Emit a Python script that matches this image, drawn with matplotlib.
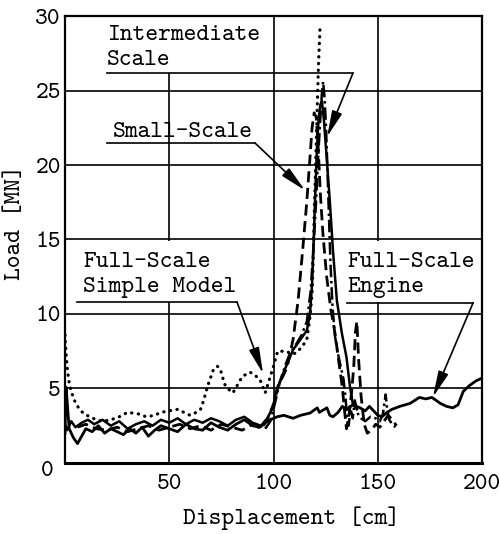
import numpy as np
import matplotlib
matplotlib.use('Agg')
import matplotlib.pyplot as plt
from matplotlib.patches import Rectangle

plt.rcParams['font.family'] = ['cmtt10', 'DejaVu Sans Mono']
plt.rcParams['font.size'] = 17.5
plt.rcParams['axes.unicode_minus'] = False

# Full-Scale Engine (solid, runs to 200 cm)
engine_x = [0, 0.5, 1, 2, 4, 6, 8, 10, 13, 16, 19, 22, 25, 28, 31, 34, 37, 40, 43, 46,
            50, 54, 58, 62, 66, 70, 74, 78, 82, 86, 90, 93.5, 97, 101.7, 105, 109.4, 113,
            117.5, 121, 122, 125.6, 127, 128.5, 131, 133, 135, 138, 141.5, 144, 146, 148,
            150, 152, 154.5, 156.8, 160.6, 165.5, 170, 173, 176, 180, 183, 186, 188.5, 191,
            194, 197, 200]
engine_y = [2.0, 5.1, 4.2, 2.3, 1.7, 1.3, 1.8, 2.3, 2.1, 2.5, 2.0, 2.3, 2.1, 1.9, 2.3, 2.0,
            2.4, 1.8, 2.2, 2.5, 2.3, 2.1, 2.6, 2.3, 2.2, 2.7, 2.4, 2.2, 2.6, 2.9, 2.5, 2.4,
            2.8, 3.1, 3.2, 3.0, 3.2, 3.35, 3.7, 3.4, 3.7, 3.2, 3.1, 3.4, 3.8, 3.6, 3.9, 3.7,
            3.5, 3.8, 3.5, 3.2, 3.1, 3.4, 3.6, 3.8, 4.0, 4.4, 4.3, 4.4, 4.0, 3.8, 3.7, 3.9,
            4.8, 5.2, 5.5, 5.7]

# Full-Scale Simple Model (solid, with peak)
simple_x = [0, 1, 3, 5, 8, 11, 14, 18, 22, 26, 30, 34, 38, 42, 46, 50, 54, 58, 62, 66, 70,
            74, 78, 82, 86, 90, 94, 97, 100, 101, 104.6, 109.4, 113, 116, 117.5, 118.5,
            119.3, 120, 120.8, 121.6, 122.4, 123.2, 124.2, 125.5, 127, 128.5, 130.4, 132.8,
            135, 136.7, 138, 140]
simple_y = [2.6, 2.2, 2.8, 2.4, 2.7, 2.9, 2.6, 2.9, 2.5, 2.8, 2.3, 2.6, 2.8, 2.5, 2.9, 2.7,
            3.0, 2.6, 2.9, 2.7, 3.0, 2.8, 2.5, 2.9, 3.1, 2.7, 2.5, 3.0, 3.8, 4.7, 6.0, 7.6,
            8.3, 8.9, 10.0, 12.0, 15.0, 18.0, 21.0, 23.0, 24.0, 24.3, 23.0, 20.5, 17.6, 14.3,
            10.9, 8.7, 7.1, 5.1, 4.0, 3.6]

# dotted curve
dot_x = [0, 0.3, 0.7, 1.2, 2, 3, 4.5, 6.5, 9, 12, 15, 18, 22, 26, 30, 35, 39, 43, 46, 50,
         54, 57, 60, 63, 65, 66.5, 68.5, 71, 73, 74.5, 76.5, 78, 80.5, 83, 85, 88.7, 91,
         93.5, 96, 98, 99.8, 102, 106, 109, 111, 113.7, 116, 117.5, 118.5, 119, 119.5,
         120.2, 121, 121.6, 122.3]
dot_y = [8.6, 7.8, 7.0, 6.2, 5.4, 4.8, 4.2, 3.7, 3.3, 3.1, 2.9, 2.8, 2.9, 3.1, 3.4, 3.3, 3.1,
         3.2, 3.4, 3.5, 3.6, 3.4, 3.2, 3.4, 3.6, 4.2, 5.2, 6.2, 6.5, 6.3, 5.3, 5.0, 4.7, 5.3,
         5.8, 6.1, 5.9, 5.6, 4.7, 5.6, 6.4, 7.5, 7.5, 7.3, 7.4, 7.8, 8.3, 9.8, 11.4, 13.5,
         16.5, 20.0, 24.0, 26.8, 29.2]

# Small-Scale (dashed)
small_x = [6, 10, 15, 20, 25, 30, 35, 40, 45, 50, 55, 60, 65, 70, 75, 80, 85, 90, 94, 97,
           100.7, 102, 106.5, 109.4, 111.8, 114, 116, 117.5, 118.5, 119.5, 120.5, 121.5,
           122.5, 123.7, 125.5, 127.5, 129.5, 131.5, 133, 134, 135, 136.2, 137.5, 138.5,
           139.3, 140, 140.8, 142, 143.5, 145, 147, 149, 151, 153, 155, 157, 159]
small_y = [2.4, 2.6, 2.3, 2.2, 2.4, 2.1, 2.3, 2.5, 2.2, 2.4, 2.6, 2.3, 2.5, 2.2, 2.6, 2.4,
           2.2, 2.6, 2.3, 2.9, 4.2, 5.1, 6.4, 8.3, 10.9, 14.3, 17.6, 20.5, 22.5, 23.5, 23.2,
           21.0, 18.0, 15.4, 12.5, 10.3, 8.7, 6.6, 5.1, 3.6, 2.3, 3.2, 4.8, 6.5, 8.8, 9.5,
           7.0, 4.5, 2.6, 2.0, 2.2, 2.6, 2.4, 2.8, 3.2, 2.9, 2.5]

# Intermediate Scale (dash-dot)
inter_x = [96, 98.5, 100.5, 103, 105.5, 108, 111, 113.5, 116, 117.8, 119.2, 120.4, 121.4,
           122.4, 123.2, 123.8, 124.5, 125.2, 125.8, 126.5, 127.3, 128.3, 129.5, 130.8,
           132.2, 133.6, 134.6, 135.3, 136, 137, 138, 139, 140.5, 142, 144, 146.5, 149, 151,
           152.5, 153.8, 154.5, 155.5, 157, 158.5]
inter_y = [2.3, 2.8, 3.9, 5.4, 6.5, 7.4, 8.0, 8.6, 9.5, 11.5, 14.5, 17.5, 20.5, 23.0, 24.8,
           25.6, 24.5, 22.5, 20.0, 17.0, 13.5, 10.5, 8.5, 7.4, 6.5, 5.6, 4.3, 3.0, 2.5, 3.6,
           3.0, 4.2, 3.3, 3.0, 2.8, 3.1, 3.0, 2.8, 3.3, 4.6, 3.6, 2.9, 2.6, 2.4]

x_ticks = [50, 100, 150, 200]
y_ticks = [5, 10, 15, 20, 25, 30]

fig = plt.figure(figsize=(5.0, 5.34), dpi=100)
ax = fig.add_axes([0.13, 0.133, 0.834, 0.837])

ax.set_xlim(0, 200)
ax.set_ylim(0, 30)
ax.set_xticks(x_ticks)
ax.set_yticks(y_ticks)
ax.tick_params(length=0, pad=3)
ax.tick_params(axis='x', pad=8)
ax.set_axisbelow(True)
ax.grid(True, color='black', lw=1.2)
for s in ax.spines.values():
    s.set_linewidth(1.6)
ax.spines['bottom'].set_linewidth(2.2)

ax.text(-0.043, -0.02, '0', transform=ax.transAxes, ha='center', va='center')

ax.set_xlabel('Displacement [cm]')
ax.xaxis.set_label_coords(0.543, -0.123)
ax.xaxis.label.set_va('center')
ax.set_ylabel('Load [MN]')
ax.yaxis.set_label_coords(-0.118, 0.537)
ax.yaxis.label.set_va('center')

ax.plot(engine_x, engine_y, color='black', lw=2.0)
ax.plot(simple_x, simple_y, color='black', lw=1.8)
ax.plot(dot_x, dot_y, color='black', lw=2.3, linestyle=(0, (0.1, 2.0)),
        dash_capstyle='round')
ax.plot(small_x, small_y, color='black', lw=2.0, linestyle=(0, (4, 2)))
ax.plot(inter_x, inter_y, color='black', lw=1.8, linestyle=(0, (5, 1.5, 1, 1.5)))

# white areas behind the labels
for (x0, y0, w, h) in [(18, 26.2, 75, 3.8), (3, 10.8, 86, 4.1), (133, 10.8, 66, 4.1)]:
    ax.add_patch(Rectangle((x0, y0), w, h, facecolor='white', edgecolor='none', zorder=1))

# labels
ax.text(20.1, 28.4, 'Intermediate', va='baseline', zorder=3)
ax.text(20.1, 26.7, 'Scale', va='baseline', zorder=3)
ax.text(23.0, 21.9, 'Small-Scale', va='baseline', zorder=3)
ax.text(8.6, 13.15, 'Full-Scale', va='baseline', zorder=3)
ax.text(8.6, 11.48, 'Simple Model', va='baseline', zorder=3)
ax.text(135.3, 13.15, 'Full-Scale', va='baseline', zorder=3)
ax.text(135.3, 11.48, 'Engine', va='baseline', zorder=3)

# leader lines and arrows
leaders = [((20.1, 138.1), 26.17, (125.7, 21.9)),
           ((20.1, 91.1), 21.48, (115.1, 18.3)),
           ((5.8, 82.5), 10.8, (95.0, 6.0)),
           ((135.3, 195.7), 10.74, (176.5, 4.43))]
for (xa, xb), yl, tip in leaders:
    ax.plot([xa, xb], [yl, yl], color='black', lw=1.2, zorder=3)
    ax.annotate('', xy=tip, xytext=(xb, yl),
                arrowprops=dict(arrowstyle='-|>,head_length=0.9,head_width=0.18',
                                color='black', lw=1.2, shrinkA=0, shrinkB=0), zorder=3)

fig.savefig('out.png', dpi=100)
